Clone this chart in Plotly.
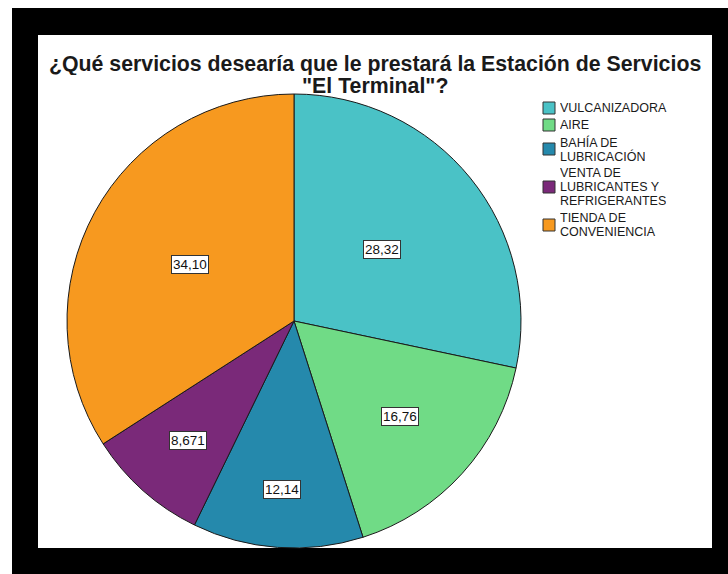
import math
import plotly.graph_objects as go

# Survey results: preferred services at "El Terminal" (percent of respondents)
categories = [
    "VULCANIZADORA",
    "AIRE",
    "BAHÍA DE<br>LUBRICACIÓN",
    "VENTA DE<br>LUBRICANTES Y<br>REFRIGERANTES",
    "TIENDA DE<br>CONVENIENCIA",
]
percentages = [28.32, 16.76, 12.14, 8.671, 34.10]
value_labels = ["28,32", "16,76", "12,14", "8,671", "34,10"]

colors = ["#4AC2C6", "#70DB86", "#2589AC", "#7A2979", "#F7991F"]

title_lines = [
    "¿Qué servicios desearía que le prestará la Estación de Servicios",
    "\"El Terminal\"?",
]

FONT = "Liberation Sans, Arial, sans-serif"

# Figure geometry (pixels)
W, H = 728, 574
cx, cy, r = 294, 321, 227          # pie centre and radius
# how far along the radius each value box sits (fraction of radius)
label_r = [0.50, 0.63, 0.745, 0.705, 0.52]


def px_x(v):
    return v / W


def px_y(v):
    return 1 - v / H


fig = go.Figure()

fig.add_trace(go.Pie(
    labels=[c.replace("<br>", " ") for c in categories],
    values=percentages,
    sort=False,
    direction="clockwise",
    rotation=0,
    textinfo="none",
    hoverinfo="label+value",
    marker=dict(colors=colors, line=dict(color="#1a1a1a", width=1)),
    domain=dict(x=[px_x(cx - r), px_x(cx + r)],
                y=[px_y(cy + r), px_y(cy - r)]),
    showlegend=False,
))

annotations = []
shapes = [
    # black frame with white chart panel
    dict(type="rect", xref="paper", yref="paper", layer="below",
         x0=px_x(12), x1=1, y0=0, y1=px_y(8),
         fillcolor="black", line=dict(width=0)),
    dict(type="rect", xref="paper", yref="paper", layer="below",
         x0=px_x(38), x1=px_x(712), y0=px_y(548), y1=px_y(35),
         fillcolor="white", line=dict(width=0)),
]

# value boxes placed at the middle angle of each slice
total = sum(percentages)
cum = 0.0
for val, txt, fr in zip(percentages, value_labels, label_r):
    mid = (cum + val / 2) / total * 2 * math.pi
    cum += val
    annotations.append(dict(
        x=px_x(cx + fr * r * math.sin(mid)), y=px_y(cy - fr * r * math.cos(mid)),
        xref="paper", yref="paper",
        text=txt, showarrow=False,
        font=dict(family=FONT, size=13.5, color="#111111"),
        bgcolor="white", bordercolor="#333333", borderwidth=1, borderpad=1,
        xanchor="center", yanchor="middle",
    ))

# title, one annotation per line for tight line spacing
for i, line in enumerate(title_lines):
    annotations.append(dict(
        x=px_x(375), y=px_y(64 + 22 * i), xref="paper", yref="paper",
        text="<b>" + line + "</b>", showarrow=False,
        font=dict(family=FONT, size=21.3, color="#1a1a1a"),
        xanchor="center", yanchor="middle", height=22,
    ))

# legend: colour swatch plus tightly spaced label lines
line_step, item_gap = 14, 3
y_line = 108
for name, col in zip(categories, colors):
    parts = name.split("<br>")
    first = y_line
    for part in parts:
        annotations.append(dict(
            x=px_x(558), y=px_y(y_line), xref="paper", yref="paper",
            text=part, showarrow=False,
            font=dict(family=FONT, size=12.5, color="#1a1a1a"),
            xanchor="left", yanchor="middle", height=line_step,
        ))
        y_line += line_step
    mid_y = (first + y_line - line_step) / 2
    shapes.append(dict(
        type="rect", xref="paper", yref="paper",
        x0=px_x(543), x1=px_x(555), y0=px_y(mid_y + 6), y1=px_y(mid_y - 6),
        fillcolor=col, line=dict(color="#333333", width=1),
    ))
    y_line += item_gap

fig.update_layout(
    width=W, height=H,
    margin=dict(l=0, r=0, t=0, b=0),
    paper_bgcolor="white",
    plot_bgcolor="white",
    showlegend=False,
    annotations=annotations,
    shapes=shapes,
)

fig.write_html("out.html")
